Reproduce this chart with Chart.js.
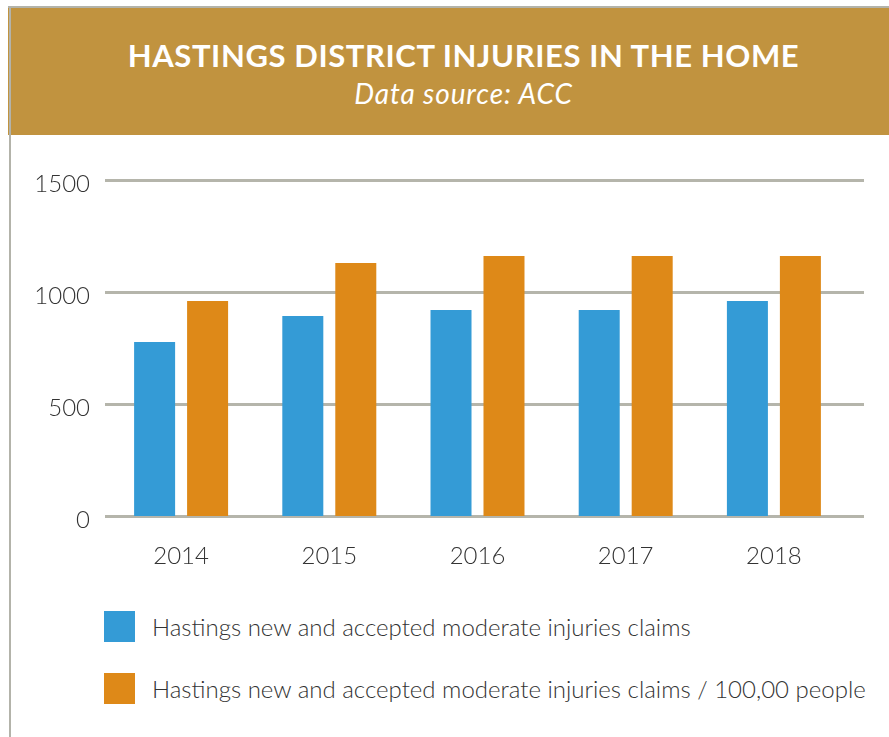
<!DOCTYPE html>
<html>
<head>
<meta charset="utf-8">
<script src="https://cdn.jsdelivr.net/npm/chart.js@4"></script>
<style>
  html, body { margin: 0; padding: 0; background: #fff; }
  #page { position: relative; width: 889px; height: 737px; overflow: hidden; font-family: Lato, "Open Sans", sans-serif; }
  #frameTop { position: absolute; left: 8px; top: 6px; width: 881px; height: 2px; background: #b3b3aa; }
  #frameLeft { position: absolute; left: 9px; top: 6px; width: 2px; height: 731px; background: #b3b3aa; z-index: 2; }
  #header { position: absolute; left: 8px; top: 8px; width: 881px; height: 127px; background: #c1933f; color: #fff; text-align: center; }
  #title { position: absolute; left: 30px; right: 0; top: 28px; font-size: 31px; font-weight: 700; letter-spacing: 0.6px; }
  #subtitle { position: absolute; left: 30px; right: 0; top: 68px; font-size: 28px; font-style: italic; font-weight: 400; letter-spacing: 0.9px; }
  #chartBox { position: absolute; left: 0; top: 0; width: 889px; height: 600px; }
  #legend { position: absolute; left: 104px; top: 611px; }
  .item { position: relative; height: 31px; margin-bottom: 31px; }
  .swatch { position: absolute; left: 0; top: 0; width: 31px; height: 31px; }
  .label { position: absolute; left: 48px; top: 0px; line-height: 31px; font-size: 24px; font-weight: 300; color: #333; white-space: nowrap; }
</style>
</head>
<body>
<div id="page">
  <div id="header">
    <div id="title">HASTINGS DISTRICT INJURIES IN THE HOME</div>
    <div id="subtitle">Data source: ACC</div>
  </div>
  <div id="frameTop"></div>
  <div id="frameLeft"></div>
  <div id="chartBox"><canvas id="chart" width="889" height="600"></canvas></div>
  <div id="legend"></div>
</div>
<script>
const years = ['2014', '2015', '2016', '2017', '2018'];
const claims = [777, 893, 920, 920, 960];
const claimsPer100k = [960, 1129, 1161, 1161, 1161];
const yTicks = [0, 500, 1000, 1500];

const seriesNames = [
  'Hastings new and accepted moderate injuries claims',
  'Hastings new and accepted moderate injuries claims / 100,00 people'
];
const seriesColors = ['#349bd6', '#de8918'];

// horizontal grid lines run wider than the category band
const wideGrid = {
  id: 'wideGrid',
  beforeDatasetsDraw(chart) {
    const ctx = chart.ctx;
    const y = chart.scales.y;
    ctx.save();
    ctx.strokeStyle = '#b5b5ab';
    ctx.lineWidth = 3;
    yTicks.forEach(v => {
      const py = Math.round(y.getPixelForValue(v)) + 0.5;
      ctx.beginPath();
      ctx.moveTo(105, py);
      ctx.lineTo(864, py);
      ctx.stroke();
    });
    ctx.restore();
  }
};

const tickFont = { family: 'Lato', size: 24, weight: '300' };

new Chart(document.getElementById('chart'), {
  type: 'bar',
  data: {
    labels: years,
    datasets: [
      { label: seriesNames[0], data: claims, backgroundColor: seriesColors[0] },
      { label: seriesNames[1], data: claimsPer100k, backgroundColor: seriesColors[1] }
    ]
  },
  options: {
    responsive: false,
    animation: false,
    devicePixelRatio: 1,
    categoryPercentage: 0.715,
    barPercentage: 0.774,
    layout: { padding: { top: 180, right: 41, left: 0, bottom: 0 } },
    plugins: { legend: { display: false }, tooltip: { enabled: false } },
    scales: {
      x: {
        grid: { display: false, drawTicks: false },
        border: { display: false },
        ticks: { color: '#333', font: tickFont, padding: 26 },
        afterFit(s) { s.height = 84; }
      },
      y: {
        min: 0,
        max: 1500,
        afterBuildTicks(s) { s.ticks = yTicks.map(v => ({ value: v })); },
        grid: { display: false, drawTicks: false },
        border: { display: false },
        ticks: { color: '#333', font: tickFont, padding: 17, labelOffset: 4, callback: v => String(v) },
        afterFit(s) { s.width = 107; }
      }
    }
  },
  plugins: [wideGrid]
});

const legend = document.getElementById('legend');
seriesNames.forEach((name, i) => {
  legend.insertAdjacentHTML('beforeend',
    `<div class="item"><div class="swatch" style="background:${seriesColors[i]}"></div><div class="label">${name}</div></div>`);
});
</script>
</body>
</html>
